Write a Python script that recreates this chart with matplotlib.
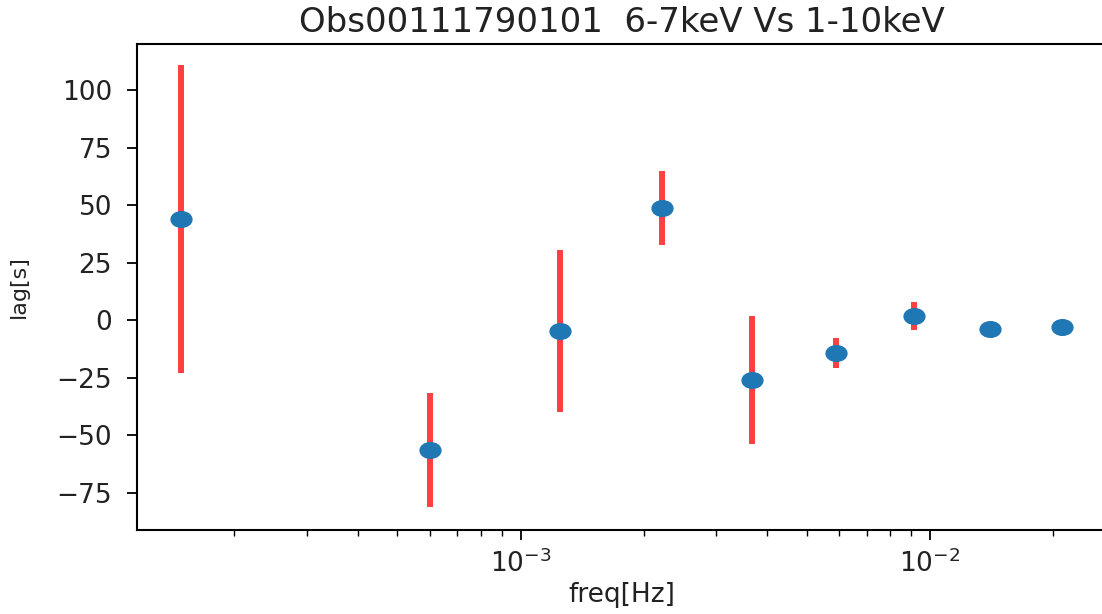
import matplotlib
matplotlib.use("Agg")
import matplotlib.pyplot as plt
import numpy as np
from matplotlib.path import Path

# lag-frequency spectrum
freq = [1.48e-4, 6.0e-4, 1.25e-3, 2.21e-3, 3.67e-3, 5.89e-3, 9.14e-3, 1.40e-2, 2.10e-2]
lag = [44.0, -56.5, -4.8, 48.7, -26.1, -14.3, 1.7, -3.9, -3.0]
lag_err = [67.0, 24.8, 35.4, 16.0, 28.0, 6.5, 6.0, 1.0, 1.0]

title = "Obs00111790101  6-7keV Vs 1-10keV"

W, H = 1102, 614
fig = plt.figure(figsize=(W / 100, H / 100), dpi=100)
ax = fig.add_axes([137 / W, (H - 530) / H, (1106 - 137) / W, (530 - 44) / H])

# slightly wide ellipse, the reference is stretched sideways
circ = Path.unit_circle()
ell = Path(circ.vertices * np.array([1.33, 1.0]), circ.codes)

ax.errorbar(freq, lag, yerr=lag_err, fmt="none", ecolor="#ff4040", elinewidth=4.3)
ax.plot(freq, lag, ls="none", marker=ell, ms=15, color="#1f77b4")

ax.set_xscale("log")
ax.set_xlim(10 ** -3.937, 10 ** -1.57)
ax.set_ylim(-91.3, 120)
ax.set_yticks([-75, -50, -25, 0, 25, 50, 75, 100])

ax.set_title(title, fontsize=24.5, pad=9, color="#222222")
ax.set_xlabel("freq[Hz]", fontsize=19, labelpad=3, color="#222222")
ax.set_ylabel("lag[s]", fontsize=16, labelpad=20, color="#222222")
ax.tick_params(axis="both", which="major", labelsize=19, length=7, width=1.3, pad=7,
               labelcolor="#222222")
ax.tick_params(axis="y", which="major", pad=11)
ax.tick_params(axis="both", which="minor", length=4, width=1.0)
for s in ax.spines.values():
    s.set_linewidth(1.5)
ax.spines["right"].set_visible(False)

fig.savefig("out.png", dpi=100)
